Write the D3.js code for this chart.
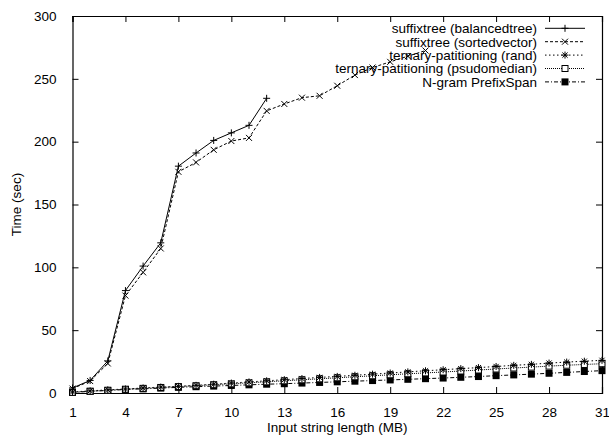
<!DOCTYPE html>
<html lang="en">
<head>
    <meta charset="UTF-8">
    <title>Time vs input string length</title>
    <script src="https://cdn.jsdelivr.net/npm/d3@7"></script>
    <style>
        html, body {
            margin: 0;
            padding: 0;
            background: #fff;
        }

        text {
            font-family: "Liberation Sans", Arial, sans-serif;
            font-size: 13.5px;
            fill: #000;
        }
    </style>
</head>
<body>
<div id="chart"></div>

<script>
    // x values (MB)
    const sizes = d3.range(1, 32)
    const xTicks = [1, 4, 7, 10, 13, 16, 19, 22, 25, 28, 31]
    const yTicks = [0, 50, 100, 150, 200, 250, 300]

    const balancedtree = [4, 10, 25.5, 81.5, 101, 119.5, 180.5, 191, 201, 207, 213, 234.5]
    const sortedvector = [3.5, 9.5, 23.5, 77.5, 96, 115, 176, 183.5, 193.5, 200.5, 203, 224.5,
        230, 235, 236.5, 244.5, 253, 259, 263.5, 268, 272.5]
    const rand = [0.8, 1.7, 2.5, 3.2, 4.0, 4.7, 5.3, 6.1, 7.0, 7.9, 8.8, 9.7, 10.6, 11.5, 12.4, 13.2,
        14.1, 15.0, 15.9, 16.8, 17.7, 18.5, 19.4, 20.2, 21.1, 22.0, 22.8, 23.8, 24.6, 25.3, 26.0]
    const psudomedian = [0.5, 1.4, 2.2, 3.0, 3.7, 4.4, 5.1, 5.8, 6.6, 7.3, 8.1, 8.9, 9.7, 10.5, 11.3, 12.1,
        12.9, 13.7, 14.5, 15.3, 16.0, 16.7, 17.5, 18.3, 19.1, 19.9, 20.6, 21.4, 22.1, 22.7, 23.3]
    const prefixspan = [0.5, 1.3, 2.0, 2.8, 3.3, 3.9, 4.5, 5.0, 5.5, 6.0, 6.5, 7.0, 7.4, 7.9, 8.4, 8.9,
        9.4, 9.9, 10.4, 10.9, 11.4, 11.9, 12.5, 13.1, 13.8, 14.4, 15.0, 15.7, 16.4, 17.1, 17.8]

    const seriesNames = ['suffixtree (balancedtree)', 'suffixtree (sortedvector)', 'ternary-patitioning (rand)',
        'ternary-patitioning (psudomedian)', 'N-gram PrefixSpan']
    const seriesValues = [balancedtree, sortedvector, rand, psudomedian, prefixspan]
    const dashes = [null, '3,2', '1.5,2.5', '1,1', '4,2,1,2']
    const markers = ['plus', 'cross', 'star', 'box', 'fbox']

    const width = 609, height = 437
    const margin = {top: 16, right: 7, bottom: 44, left: 72.5}

    const svg = d3.select('#chart').append('svg')
        .attr('width', width)
        .attr('height', height)

    const x = d3.scaleLinear().domain([1, 31]).range([margin.left, width - margin.right])
    const y = d3.scaleLinear().domain([0, 300]).range([height - margin.bottom, margin.top])

    // axes with inward ticks on all four sides (gnuplot style)
    const tick = 6
    svg.append('g')
        .attr('transform', `translate(0,${y(0)})`)
        .call(d3.axisBottom(x).tickValues(xTicks).tickSize(-tick).tickPadding(14))
    svg.append('g')
        .attr('transform', `translate(0,${y(300)})`)
        .call(d3.axisTop(x).tickValues(xTicks).tickSize(-tick).tickFormat(''))
    svg.append('g')
        .attr('transform', `translate(${x(1)},0)`)
        .call(d3.axisLeft(y).tickValues(yTicks).tickSize(-tick).tickPadding(16))
    svg.append('g')
        .attr('transform', `translate(${x(31)},0)`)
        .call(d3.axisRight(y).tickValues(yTicks).tickSize(-tick).tickFormat(''))

    svg.selectAll('.domain').attr('stroke', '#000').attr('stroke-width', 1.2)
    svg.selectAll('.tick line').attr('stroke', '#000')
    svg.selectAll('.tick text')
        .attr('font-family', '"Liberation Sans", Arial, sans-serif')
        .attr('font-size', 13.5)
        .attr('fill', '#000')

    svg.append('text')
        .attr('x', (x(1) + x(31)) / 2)
        .attr('y', 432)
        .attr('text-anchor', 'middle')
        .text('Input string length (MB)')

    svg.append('text')
        .attr('transform', `translate(21,${(y(0) + y(300)) / 2}) rotate(-90)`)
        .attr('text-anchor', 'middle')
        .text('Time (sec)')

    const drawMarker = (g, type, cx, cy) => {
        const s = 3.5
        const st = {stroke: '#000', 'stroke-width': 1, fill: 'none'}
        const seg = (x1, y1, x2, y2) => {
            const l = g.append('line').attr('x1', x1).attr('y1', y1).attr('x2', x2).attr('y2', y2)
            Object.entries(st).forEach(([k, v]) => l.attr(k, v))
        }
        if (type === 'plus' || type === 'star') {
            seg(cx - s, cy, cx + s, cy)
            seg(cx, cy - s, cx, cy + s)
        }
        if (type === 'cross' || type === 'star') {
            const c = type === 'star' ? 2.6 : 3
            seg(cx - c, cy - c, cx + c, cy + c)
            seg(cx - c, cy + c, cx + c, cy - c)
        }
        if (type === 'box') {
            g.append('rect').attr('x', cx - 3).attr('y', cy - 3).attr('width', 6).attr('height', 6)
                .attr('fill', '#fff').attr('stroke', '#000').attr('stroke-width', 1)
        }
        if (type === 'fbox') {
            g.append('rect').attr('x', cx - 3.5).attr('y', cy - 3.5).attr('width', 7).attr('height', 7)
                .attr('fill', '#000')
        }
    }

    const line = d3.line().x(d => x(d[0])).y(d => y(d[1]))

    // draw series, last first so the suffixtree lines sit on top
    for (let i = seriesValues.length - 1; i >= 0; i--) {
        const pts = seriesValues[i].map((v, j) => [sizes[j], v])
        const g = svg.append('g')
        g.append('path')
            .attr('d', line(pts))
            .attr('fill', 'none')
            .attr('stroke', '#000')
            .attr('stroke-width', 1)
            .attr('stroke-dasharray', dashes[i])
        pts.forEach(p => drawMarker(g, markers[i], x(p[0]), y(p[1])))
    }

    // legend
    const legend = svg.append('g')
    seriesNames.forEach((name, i) => {
        const ly = 28.3 + i * 13.4
        legend.append('text')
            .attr('x', 537)
            .attr('y', ly + 4.8)
            .attr('text-anchor', 'end')
            .text(name)
        legend.append('line')
            .attr('x1', 545).attr('x2', 585)
            .attr('y1', ly).attr('y2', ly)
            .attr('stroke', '#000')
            .attr('stroke-width', 1)
            .attr('stroke-dasharray', dashes[i])
        drawMarker(legend, markers[i], 565, ly)
    })
</script>
</body>
</html>
